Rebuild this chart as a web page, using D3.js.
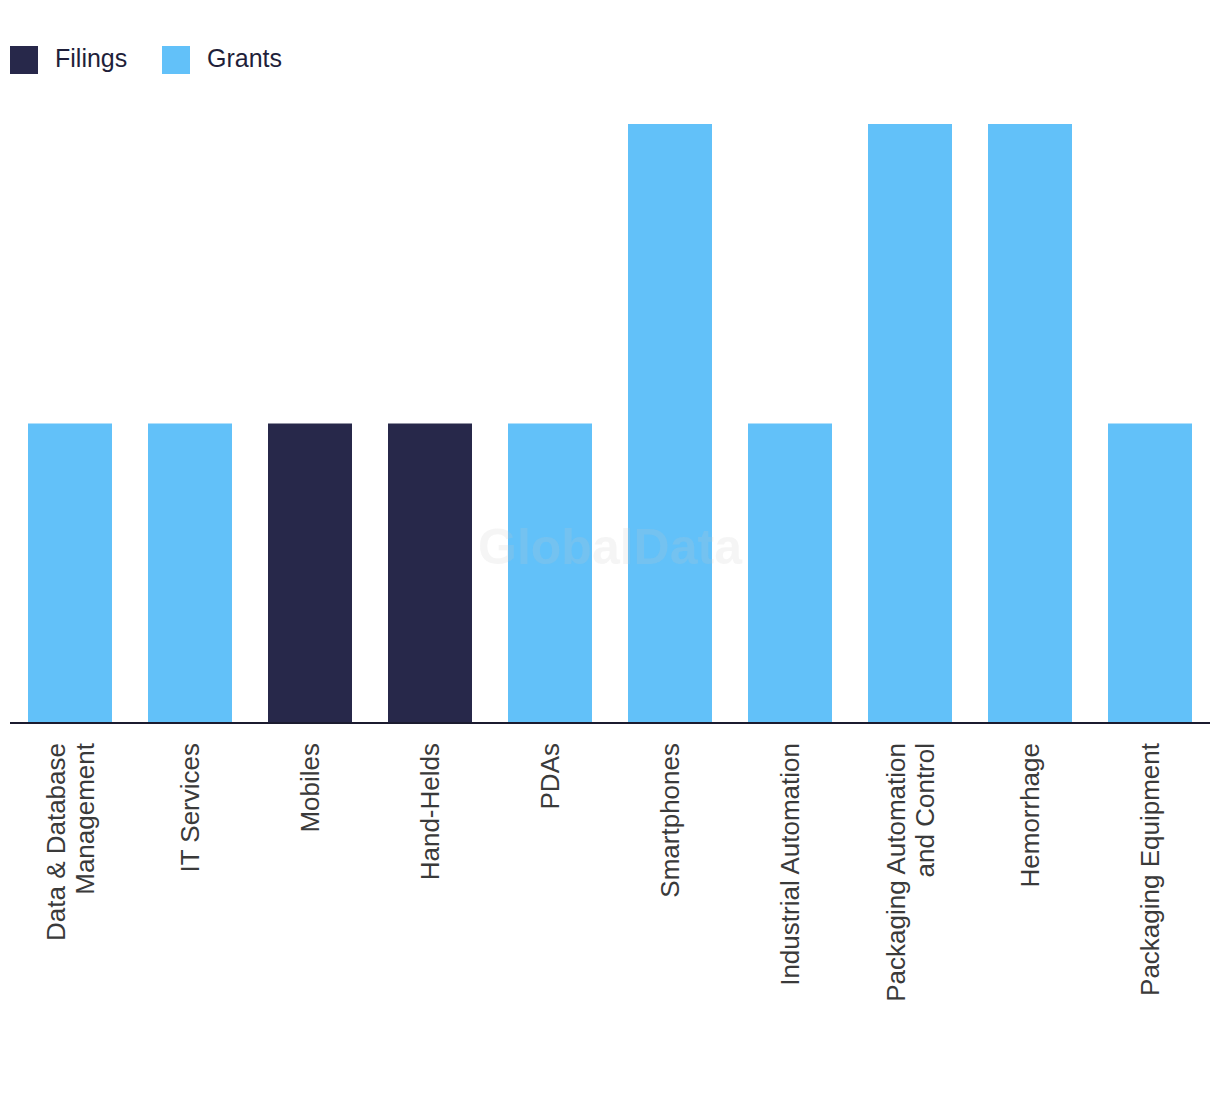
<!DOCTYPE html>
<html>
<head>
<meta charset="utf-8">
<script src="https://cdn.jsdelivr.net/npm/d3@7"></script>
<style>
  html, body { margin: 0; padding: 0; background: #ffffff; }
  svg { display: block; }
</style>
</head>
<body>
<svg id="chart" width="1220" height="1094"></svg>
<script>
const categories = [
  ["Data & Database", "Management"],
  ["IT Services"],
  ["Mobiles"],
  ["Hand-Helds"],
  ["PDAs"],
  ["Smartphones"],
  ["Industrial Automation"],
  ["Packaging Automation", "and Control"],
  ["Hemorrhage"],
  ["Packaging Equipment"]
];
const seriesNames = ["Filings", "Grants"];
const filings = [0, 0, 1, 1, 0, 0, 0, 0, 0, 0];
const grants  = [1, 1, 0, 0, 1, 2, 1, 2, 2, 1];
const colors = ["#27284A", "#62C1F9"];

const svg = d3.select("#chart");
const font = "'Liberation Sans', Arial, sans-serif";

const keys = categories.map(c => c.join(" "));
const rows = keys.map((k, i) => ({ key: k, Filings: filings[i], Grants: grants[i] }));
const stacked = d3.stack().keys(seriesNames)(rows);

const x = d3.scaleBand().domain(keys).range([10, 1210]).paddingInner(0.3).paddingOuter(0.15);
const y = d3.scaleLinear().domain([0, 2]).range([723, 124]);

// bars
svg.append("g").selectAll("g")
  .data(stacked).join("g")
  .attr("fill", (d, i) => colors[i])
  .selectAll("rect")
  .data(d => d.filter(s => s[1] - s[0] > 0))
  .join("rect")
  .attr("x", d => x(d.data.key))
  .attr("width", x.bandwidth())
  .attr("y", d => y(d[1]))
  .attr("height", d => y(d[0]) - y(d[1]));

// watermark
svg.append("text")
  .attr("x", 610).attr("y", 564)
  .attr("text-anchor", "middle")
  .attr("font-family", font)
  .attr("font-weight", "bold")
  .attr("font-size", 50)
  .attr("fill", "#c8c8c8")
  .attr("fill-opacity", 0.18)
  .text("GlobalData");

// x axis
const xAxis = svg.append("g").attr("transform", "translate(0,723)")
  .call(d3.axisBottom(x).tickSize(0).tickFormat(""));
xAxis.select(".domain").attr("stroke", "#1b1b2f").attr("stroke-width", 2)
  .attr("d", "M10,0H1210");

// labels
const labels = svg.append("g");
categories.forEach((lines, i) => {
  const cx = x(keys[i]) + x.bandwidth() / 2;
  const t = labels.append("text")
    .attr("transform", `translate(${cx},743) rotate(-90)`)
    .attr("text-anchor", "end")
    .attr("font-family", font)
    .attr("font-size", 26)
    .attr("fill", "#3a3a3a");
  const lh = 29;
  const off = 9 - (lines.length - 1) * lh / 2;
  lines.forEach((ln, j) => {
    t.append("tspan").attr("x", 0).attr("y", off + j * lh).text(ln);
  });
});

// legend
const legend = svg.append("g");
const legendX = [10, 162];
seriesNames.forEach((s, i) => {
  legend.append("rect")
    .attr("x", legendX[i]).attr("y", 46)
    .attr("width", 28).attr("height", 28)
    .attr("fill", colors[i]);
  legend.append("text")
    .attr("x", legendX[i] + 45).attr("y", 67)
    .attr("font-family", font)
    .attr("font-size", 25)
    .attr("fill", "#1f1f3a")
    .text(s);
});
</script>
</body>
</html>
